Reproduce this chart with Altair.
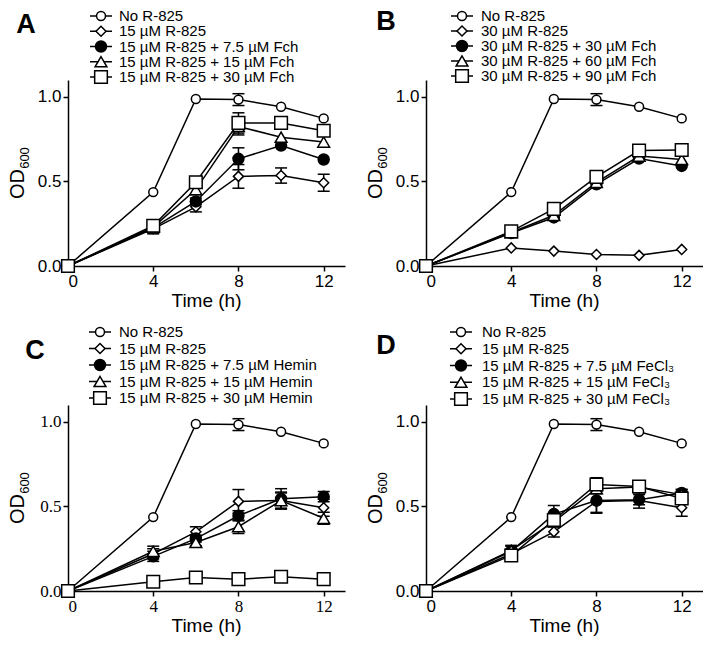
import altair as alt
import pandas as pd

# ---------------- data ----------------
TIME = [0, 4, 6, 8, 10, 12]

NO_R = [0.0, 0.437, 0.988, 0.984, 0.942, 0.873]
NO_R_ERR = [0, 0, 0, 0.035, 0, 0]
R15 = [0.0, 0.22, 0.35, 0.53, 0.535, 0.492]
R15_ERR = [0, 0.03, 0.03, 0.07, 0.045, 0.05]

# Panel A (Fch)
A_FCH7 = [0.0, 0.225, 0.382, 0.634, 0.712, 0.630]
A_FCH7_ERR = [0, 0.03, 0.02, 0.065, 0, 0]
A_FCH15 = [0.0, 0.23, 0.452, 0.825, 0.762, 0.733]
A_FCH15_ERR = [0, 0.02, 0.03, 0.05, 0, 0]
A_FCH30 = [0.0, 0.238, 0.495, 0.846, 0.846, 0.800]
A_FCH30_ERR = [0, 0.02, 0.02, 0.06, 0, 0]

# Panel B (30 uM R-825 + Fch)
B_R30 = [0.0, 0.107, 0.088, 0.068, 0.063, 0.098]
B_FCH30 = [0.0, 0.195, 0.287, 0.483, 0.635, 0.592]
B_FCH60 = [0.0, 0.198, 0.300, 0.495, 0.650, 0.630]
B_FCH90 = [0.0, 0.205, 0.338, 0.527, 0.683, 0.686]
ZERO_ERR = [0, 0, 0, 0, 0, 0]

# Panel C (Hemin)
C_HEM7 = [0.0, 0.205, 0.310, 0.445, 0.545, 0.558]
C_HEM7_ERR = [0, 0.03, 0.02, 0.03, 0.06, 0.03]
C_HEM15 = [0.0, 0.235, 0.287, 0.380, 0.535, 0.430]
C_HEM15_ERR = [0, 0.03, 0.02, 0.04, 0.05, 0.035]
C_HEM30 = [0.0, 0.055, 0.080, 0.070, 0.084, 0.070]

# Panel D (FeCl3)
D_FE7 = [0.0, 0.235, 0.455, 0.535, 0.540, 0.580]
D_FE7_ERR = [0, 0.03, 0.05, 0.07, 0.03, 0.02]
D_FE15 = [0.0, 0.240, 0.410, 0.605, 0.615, 0.570]
D_FE15_ERR = [0, 0.03, 0.03, 0.03, 0.02, 0.03]
D_FE30 = [0.0, 0.210, 0.420, 0.630, 0.618, 0.547]
D_FE30_ERR = [0, 0.02, 0.03, 0.04, 0.02, 0.03]

LABELS_A = ["No R-825", "15 µM R-825", "15 µM R-825 + 7.5 µM Fch",
            "15 µM R-825 + 15 µM Fch", "15 µM R-825 + 30 µM Fch"]
LABELS_B = ["No R-825", "30 µM R-825", "30 µM R-825 + 30 µM Fch",
            "30 µM R-825 + 60 µM Fch", "30 µM R-825 + 90 µM Fch"]
LABELS_C = ["No R-825", "15 µM R-825", "15 µM R-825 + 7.5 µM Hemin",
            "15 µM R-825 + 15 µM Hemin", "15 µM R-825 + 30 µM Hemin"]
LABELS_D = ["No R-825", "15 µM R-825", "15 µM R-825 + 7.5 µM FeCl₃",
            "15 µM R-825 + 15 µM FeCl₃", "15 µM R-825 + 30 µM FeCl₃"]

X_TICKS = [0, 4, 8, 12]
Y_TICKS = [0.0, 0.5, 1.0]
X_TITLE = "Time (h)"

# ---------------- styling / layout ----------------
SANS = "Liberation Sans"
SERIF = "Liberation Serif"
W, H = 277, 186

shape_scale = alt.Scale(domain=[0, 1, 2, 3, 4],
                        range=["circle", "diamond", "circle", "triangle-up", "square"])
fill_scale = alt.Scale(domain=[0, 1, 2, 3, 4],
                       range=["white", "white", "black", "white", "white"])
size_scale = alt.Scale(domain=[0, 1, 2, 3, 4], range=[80, 160, 75, 90, 80])


def make_panel(letter, labels, values, errs, label_font, letter_pos, leg_range, leg_x):
    rows = []
    for k in range(5):
        for j, t in enumerate(TIME):
            v = values[k][j]
            e = errs[k][j]
            rows.append({"idx": k, "t": t, "od": v, "err": e, "lo": v - e, "hi": v + e})
    df = pd.DataFrame(rows)
    err_df = df[df["err"] > 0]
    leg = pd.DataFrame({"idx": list(range(5)), "label": labels})

    xs = alt.Scale(domain=[0, 13], nice=False, zero=False)
    ys = alt.Scale(domain=[0, 1.1], nice=False)
    xaxis = alt.Axis(values=X_TICKS, format="d", title=None, labelFont=label_font,
                     grid=False)
    yaxis = alt.Axis(values=Y_TICKS, format=".1f", title=None, labelFont=label_font,
                     grid=False)

    def X(f):
        return alt.X(f, scale=xs, axis=xaxis, title=None)

    def Y(f):
        return alt.Y(f, scale=ys, axis=yaxis, title=None)

    shape = alt.Shape("idx:N", scale=shape_scale, legend=None)
    fill = alt.Fill("idx:N", scale=fill_scale, legend=None)
    size = alt.Size("idx:N", scale=size_scale, legend=None)

    lines = alt.Chart(df).mark_line(color="black", strokeWidth=1.5).encode(
        x=X("t:Q"), y=Y("od:Q"), detail="idx:N")
    rules = alt.Chart(err_df).mark_rule(color="black", strokeWidth=1.5).encode(
        x=X("t:Q"), y=Y("lo:Q"), y2="hi:Q")
    cap_hi = alt.Chart(err_df).mark_tick(color="black", orient="horizontal", size=12,
                                         thickness=1.5, opacity=1).encode(
        x=X("t:Q"), y=Y("hi:Q"))
    cap_lo = alt.Chart(err_df).mark_tick(color="black", orient="horizontal", size=12,
                                         thickness=1.5, opacity=1).encode(
        x=X("t:Q"), y=Y("lo:Q"))
    pts = alt.Chart(df).mark_point(filled=True, stroke="black", strokeWidth=1.5,
                                   opacity=1, fillOpacity=1, strokeOpacity=1).encode(
        x=X("t:Q"), y=Y("od:Q"), shape=shape, fill=fill, size=size)

    data_layer = alt.layer(lines, rules, cap_hi, cap_lo, pts)

    ly = alt.Y("idx:Q", scale=alt.Scale(domain=[0, 4], range=leg_range), axis=None)
    mx, tx = leg_x
    leg_rule = alt.Chart(leg).mark_rule(color="black", strokeWidth=1.5).encode(
        x=alt.value(mx - 11), x2=alt.value(mx + 11), y=ly)
    leg_pts = alt.Chart(leg).mark_point(filled=True, stroke="black", strokeWidth=1.5,
                                        opacity=1, fillOpacity=1, strokeOpacity=1).encode(
        x=alt.value(mx), y=ly, shape=shape, fill=fill, size=size)
    leg_txt = alt.Chart(leg).mark_text(align="left", baseline="middle", fontSize=15,
                                       font=SANS, color="black").encode(
        x=alt.value(tx), y=ly, text="label:N")

    one = pd.DataFrame({"letter": [letter]})
    let_txt = alt.Chart(one).mark_text(fontSize=27, fontWeight="bold", font=SANS,
                                       align="center", baseline="middle",
                                       color="black").encode(
        x=alt.value(letter_pos[0]), y=alt.value(letter_pos[1]), text="letter:N")
    od_txt = alt.Chart(one).mark_text(fontSize=20, font=SANS, angle=270, align="center",
                                      baseline="middle", color="black").encode(
        x=alt.value(-50), y=alt.value(104), text=alt.value("OD"))
    sub_txt = alt.Chart(one).mark_text(fontSize=13, font=SANS, angle=270, align="center",
                                       baseline="middle", color="black").encode(
        x=alt.value(-43), y=alt.value(78), text=alt.value("600"))
    xt_txt = alt.Chart(one).mark_text(fontSize=19, font=SANS, fontWeight="normal",
                                      align="center", baseline="middle",
                                      color="black").encode(
        x=alt.value(W / 2), y=alt.value(H + 35), text=alt.value(X_TITLE))

    legend_layer = alt.layer(leg_rule, leg_pts, leg_txt, let_txt, od_txt, sub_txt, xt_txt)

    return alt.layer(data_layer, legend_layer).resolve_scale(y="independent").properties(
        width=W, height=H)


pA = make_panel("A", LABELS_A,
                [NO_R, R15, A_FCH7, A_FCH15, A_FCH30],
                [NO_R_ERR, R15_ERR, A_FCH7_ERR, A_FCH15_ERR, A_FCH30_ERR],
                SANS, (-42, -55), [-64, -3], (33, 51))
pB = make_panel("B", LABELS_B,
                [NO_R, B_R30, B_FCH30, B_FCH60, B_FCH90],
                [NO_R_ERR, ZERO_ERR, ZERO_ERR, ZERO_ERR, ZERO_ERR],
                SANS, (-40, -58), [-64, -4], (36, 55))
pC = make_panel("C", LABELS_C,
                [NO_R, R15, C_HEM7, C_HEM15, C_HEM30],
                [NO_R_ERR, R15_ERR, C_HEM7_ERR, C_HEM15_ERR, ZERO_ERR],
                SERIF, (-33, -54), [-73, -7], (32, 51))
pD = make_panel("D", LABELS_D,
                [NO_R, R15, D_FE7, D_FE15, D_FE30],
                [NO_R_ERR, R15_ERR, D_FE7_ERR, D_FE15_ERR, D_FE30_ERR],
                SANS, (-40, -59), [-73, -6], (35, 56))

chart = alt.vconcat(
    alt.hconcat(pA, pB, spacing=21),
    alt.hconcat(pC, pD, spacing=21),
    spacing=13,
).properties(
    padding=0
).configure_view(stroke=None).configure_axis(
    domainColor="black", domainWidth=1.5, tickColor="black", tickWidth=1.5, tickSize=5,
    labelPadding=2, labelFontSize=17, labelColor="black", grid=False,
)

chart.save("out.html", embed_options={"renderer": "svg", "actions": False})
